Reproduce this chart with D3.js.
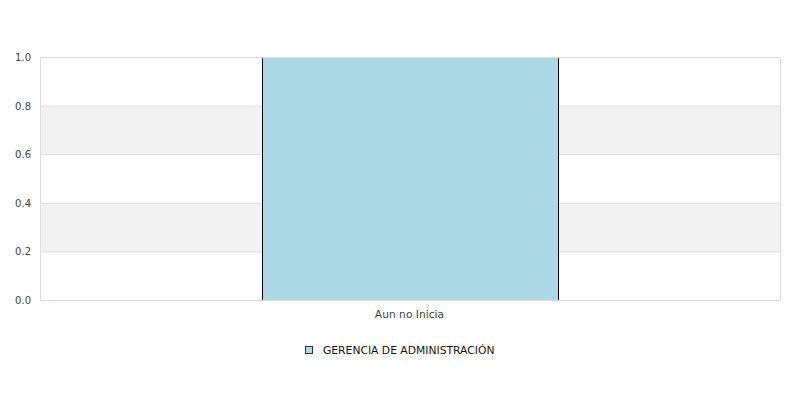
<!DOCTYPE html>
<html><head><meta charset="utf-8">
<script src="https://cdn.jsdelivr.net/npm/d3@7"></script>
<style>body{margin:0;background:#fff;} svg{display:block;font-family:"DejaVu Sans",sans-serif;}</style>
</head><body>
<svg id="c" width="800" height="400"></svg>
<script>
const categories = ["Aun no Inicia"];
const seriesName = "GERENCIA DE ADMINISTRACIÓN";
const values = [1.0];
const yTicks = [0, 0.2, 0.4, 0.6, 0.8, 1.0];

const svg = d3.select("#c");
const m = {l: 40.5, r: 780.5, t: 57.5, b: 300.5};
const x = d3.scaleBand().domain(categories).range([m.l, m.r]).paddingInner(0).paddingOuter(0.75);
const y = d3.scaleLinear().domain([0, 1]).range([m.b, m.t]);

// alternating bands
const bands = d3.pairs(yTicks);
svg.selectAll("rect.band").data(bands).enter().append("rect")
  .attr("x", m.l).attr("width", m.r - m.l)
  .attr("y", d => y(d[1])).attr("height", d => y(d[0]) - y(d[1]))
  .attr("fill", (d, i) => i % 2 === 1 ? "#f2f2f2" : "#ffffff");
// grid lines
svg.selectAll("line.grid").data(yTicks).enter().append("line")
  .attr("x1", m.l).attr("x2", m.r).attr("y1", d => y(d)).attr("y2", d => y(d))
  .attr("stroke", "#dddddd").attr("stroke-width", 1);

// bars
svg.selectAll("rect.bar").data(values).enter().append("rect")
  .attr("x", (d, i) => Math.floor(x(categories[i])) + 0.5)
  .attr("width", Math.round(x.bandwidth()))
  .attr("y", d => y(d)).attr("height", d => y(0) - y(d))
  .attr("fill", "#add8e6").attr("stroke", "#000").attr("stroke-width", 1);

// frame
svg.append("rect").attr("x", m.l).attr("y", m.t).attr("width", m.r - m.l).attr("height", m.b - m.t)
  .attr("fill", "none").attr("stroke", "#dddddd").attr("stroke-width", 1);

// y labels
svg.selectAll("text.yl").data(yTicks).enter().append("text")
  .attr("x", 31).attr("y", d => y(d)).attr("dy", "0.35em")
  .attr("text-anchor", "end").attr("font-size", 10).attr("fill", "#444")
  .text(d => d3.format(".1f")(d));

// x labels
svg.selectAll("text.xl").data(categories).enter().append("text")
  .attr("x", d => x(d) + x.bandwidth() / 2 - 1).attr("y", 314).attr("dy", "0.35em")
  .attr("text-anchor", "middle").attr("font-size", 10.7).attr("fill", "#444")
  .text(d => d);

// legend
const lg = svg.append("g");
lg.append("rect").attr("x", 305.5).attr("y", 346.5).attr("width", 7).attr("height", 7)
  .attr("fill", "#add8e6").attr("stroke", "#333").attr("stroke-width", 1);
lg.append("text").attr("x", 323).attr("y", 350).attr("dy", "0.35em")
  .attr("font-size", 10.75).attr("fill", "#111").text(seriesName);
</script>
</body></html>
